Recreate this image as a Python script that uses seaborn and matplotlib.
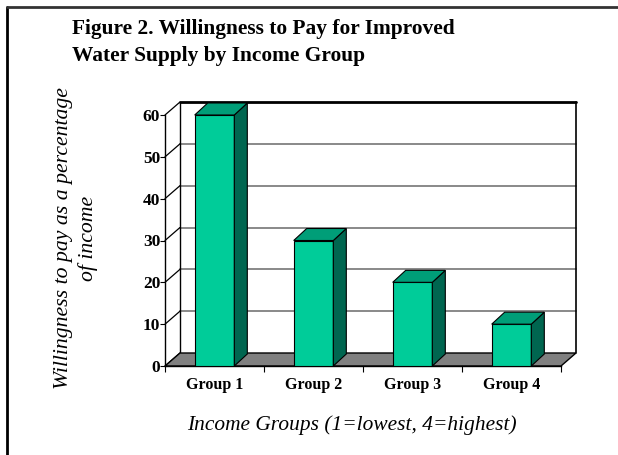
import matplotlib
matplotlib.use('Agg')
import matplotlib.pyplot as plt
import matplotlib.transforms as mtransforms
from matplotlib.patches import Polygon
from matplotlib.lines import Line2D
import seaborn as sns
import pandas as pd

groups = ["Group 1", "Group 2", "Group 3", "Group 4"]
values = [60, 30, 20, 10]
y_ticks = [0, 10, 20, 30, 40, 50, 60]
title = "Figure 2. Willingness to Pay for Improved\nWater Supply by Income Group"
ylabel = "Willingness to pay as a percentage\nof income"
xlabel = "Income Groups (1=lowest, 4=highest)"

sns.set_theme(style="white")
plt.rcParams['font.family'] = ['Liberation Serif', 'DejaVu Serif']

W, H = 618, 455
fig = plt.figure(figsize=(W / 100, H / 100), dpi=100)
fig.patch.set_facecolor('white')
ax = fig.add_axes([165 / W, 1 - 366 / H, (561 - 165) / W, (366 - 115) / H])
ax.set_facecolor('none')

df = pd.DataFrame({'group': groups, 'value': values})
sns.barplot(data=df, x='group', y='value', color='#00CC99', saturation=1,
            width=0.4, edgecolor='black', linewidth=0.8, ax=ax, zorder=3)
bars = list(ax.patches)

ax.set_xlim(-0.5, 3.5)
ax.set_ylim(0, 60)
ax.set_xlabel('')
ax.set_ylabel('')

ident = mtransforms.IdentityTransform()
WX, WY = 15, 13   # wall depth (pixels)
BX, BY = 13, 12   # bar depth (pixels)


def px(x, y):
    return ax.transData.transform((x, y))


def poly(pts, z, **kw):
    p = Polygon(pts, closed=True, transform=ident, clip_on=False, zorder=z, **kw)
    ax.add_artist(p)


def line(p0, p1, z, **kw):
    l = Line2D([p0[0], p1[0]], [p0[1], p1[1]], transform=ident, clip_on=False, zorder=z, **kw)
    ax.add_artist(l)


x0, x1 = ax.get_xlim()
ylo, yhi = ax.get_ylim()
bl = px(x0, ylo)
br = px(x1, ylo)
tl = px(x0, yhi)
tr = px(x1, yhi)
off = lambda p, dx, dy: (p[0] + dx, p[1] + dy)

# back wall
poly([off(bl, WX, WY), off(br, WX, WY), off(tr, WX, WY), off(tl, WX, WY)], 0.5,
     facecolor='white', edgecolor='none')
for t in y_ticks[1:-1]:
    a = px(x0, t)
    b = px(x1, t)
    line(off(a, WX, WY), off(b, WX, WY), 0.6, color='#808080', lw=1.3)
# wall borders
line(off(tl, WX, WY), off(tr, WX, WY), 0.7, color='black', lw=2)
line(off(tr, WX, WY), off(br, WX, WY), 0.7, color='black', lw=1.2)
line(off(tl, WX, WY), off(bl, WX, WY), 0.7, color='black', lw=1)
# left wall diagonals
for t in y_ticks:
    a = px(x0, t)
    line(a, off(a, WX, WY), 0.7, color='black', lw=0.9)
# floor
poly([bl, br, off(br, WX, WY), off(bl, WX, WY)], 0.8,
     facecolor='#808080', edgecolor='black', linewidth=1)

# 3D sides and tops of bars
for patch in bars:
    bx, by = patch.get_x(), patch.get_y()
    bw, bh = patch.get_width(), patch.get_height()
    fr = px(bx + bw, by)
    ftl = px(bx, by + bh)
    ftr = px(bx + bw, by + bh)
    poly([fr, ftr, off(ftr, BX, BY), off(fr, BX, BY)], 3.5,
         facecolor='#006650', edgecolor='black', linewidth=0.8)
    poly([ftl, ftr, off(ftr, BX, BY), off(ftl, BX, BY)], 3.5,
         facecolor='#009E78', edgecolor='black', linewidth=0.8)

for s in ['top', 'right']:
    ax.spines[s].set_visible(False)
for s in ['left', 'bottom']:
    ax.spines[s].set_visible(True)
    ax.spines[s].set_color('black')
    ax.spines[s].set_linewidth(1)

ax.set_yticks(y_ticks)
ax.set_yticklabels([str(v) for v in y_ticks], fontweight='bold', fontsize=12.5)
ax.tick_params(axis='y', left=True, length=3.5, width=0.8, pad=0, colors='black')
ax.set_xticks(range(len(groups)))
ax.set_xticklabels(groups, fontweight='bold', fontsize=11.5)
ax.set_xticks([-0.5, 0.5, 1.5, 2.5, 3.5], minor=True)
ax.tick_params(axis='x', which='major', bottom=False, length=0, pad=8, colors='black')
ax.tick_params(axis='x', which='minor', bottom=True, length=4, width=0.8, color='black')

fig.text(72 / W, 1 - 19 / H, title, fontweight='bold', fontsize=15.4,
         va='top', ha='left', linespacing=1.5, color='black')
fig.text(76 / W, 1 - 238 / H, ylabel, rotation=90, style='italic', fontsize=15.7,
         ha='center', va='center', linespacing=1.3, color='black')
fig.text(352 / W, 1 - 425 / H, xlabel, style='italic', fontsize=15.4,
         ha='center', va='center', color='black')

fig.add_artist(Line2D([7 / W, 7 / W], [0, 1 - 7 / H], transform=fig.transFigure,
                      color='black', lw=2))
fig.add_artist(Line2D([7 / W, 1], [1 - 7 / H, 1 - 7 / H], transform=fig.transFigure,
                      color='#333333', lw=2))

fig.savefig('out.png', dpi=100)
